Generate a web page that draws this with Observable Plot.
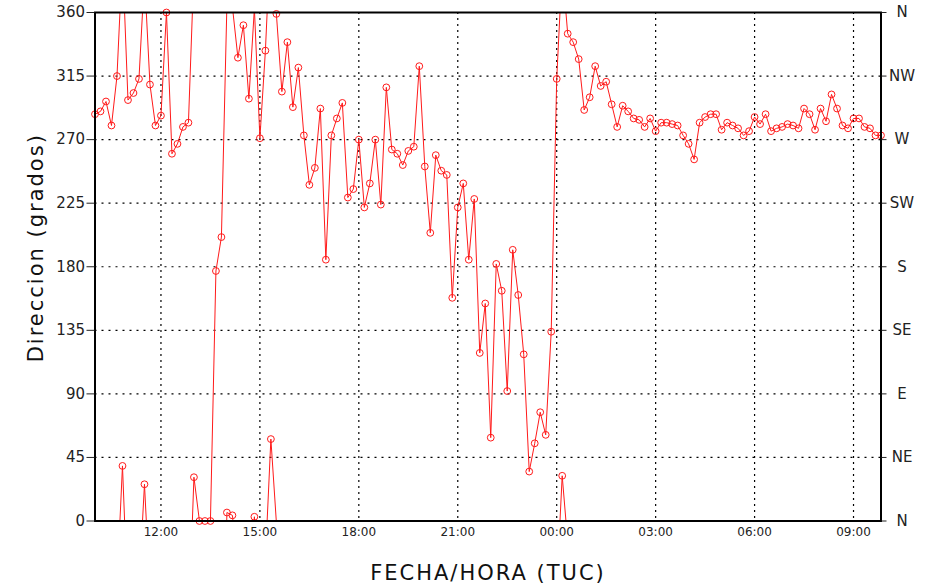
<!DOCTYPE html>
<html><head><meta charset="utf-8">
<script src="https://cdn.jsdelivr.net/npm/d3@7"></script>
<script src="https://cdn.jsdelivr.net/npm/@observablehq/plot@0.6"></script>
<style>
body{margin:0;background:#fff;}
#chart{position:relative;width:930px;height:587px;overflow:hidden;}
#mark{position:absolute;left:0;top:12px;width:7px;height:3px;background:#2ab0b0;}
#chart svg{position:absolute;left:0;top:0;}
</style></head><body><div id="chart"><div id="mark"></div></div>
<script>
// Serie: dirección del viento cada 10 minutos desde las 10:00
const startHourUTC = 10;
const stepMinutes = 10;
const direccion = [
  288,290,297,280,315,39,298,303,313,26,
  309,280,287,360,260,267,279,282,31,0,
  0,0,177,201,6,4,328,351,299,3,
  271,333,58,359,304,339,293,321,273,238,
  250,292,185,273,285,296,229,235,270,222,
  239,270,224,307,263,260,252,262,265,322,
  251,204,259,248,245,158,222,239,185,228,
  119,154,59,182,163,92,192,160,118,35,
  55,77,61,134,313,32,345,339,327,291,
  300,322,308,311,295,279,294,290,285,284,
  279,285,276,282,282,281,280,273,267,256,
  282,286,288,288,277,282,280,278,273,276,
  286,281,288,276,278,279,281,280,278,292,
  288,277,292,283,302,292,280,278,285,285,
  279,278,273,273
];
const yTicks = [0,45,90,135,180,225,270,315,360];
const rumbos = ["N","NE","E","SE","S","SW","W","NW","N"];
const xTickHours = [12,15,18,21,24,27,30,33];
const xTickLabels = ["12:00","15:00","18:00","21:00","00:00","03:00","06:00","09:00"];
const xLabel = "FECHA/HORA (TUC)";
const yLabel = "Direccion (grados)";

const t0 = Date.UTC(2023,0,1,startHourUTC,0);
const data = direccion.map((v,i)=>({t:new Date(t0+i*stepMinutes*60000), v}));
const segs = [];
for (let i=0;i<data.length-1;i++){
  const a=data[i], b=data[i+1], d=b.v-a.v;
  if (Math.abs(d)<=180) segs.push({x1:a.t,y1:a.v,x2:b.t,y2:b.v});
  else if (d<0){ segs.push({x1:a.t,y1:a.v,x2:b.t,y2:b.v+360}); segs.push({x1:a.t,y1:a.v-360,x2:b.t,y2:b.v}); }
  else { segs.push({x1:a.t,y1:a.v,x2:b.t,y2:b.v-360}); segs.push({x1:a.t,y1:a.v+360,x2:b.t,y2:b.v}); }
}
const xTicks = xTickHours.map(h=>new Date(Date.UTC(2023,0,1,h,0)));

const plot = Plot.plot({
  width:930, height:587,
  marginLeft:94.5, marginRight:49.5, marginTop:12, marginBottom:66.5,
  x:{type:"utc", domain:[data[0].t, data[data.length-1].t]},
  y:{domain:[0,360]},
  style:{fontFamily:"'DejaVu Sans', sans-serif", background:"white", overflow:"visible", color:"#222"},
  marks:[
    Plot.ruleY(yTicks.slice(1,-1), {stroke:"black", strokeDasharray:"2,5", strokeWidth:1.2}),
    Plot.ruleX(xTicks, {stroke:"black", strokeDasharray:"2,4", strokeWidth:1.2}),
    Plot.link(segs, {x1:"x1",y1:"y1",x2:"x2",y2:"y2", stroke:"#ff1a1a", strokeWidth:1, clip:true}),
    Plot.dot(data, {x:"t", y:"v", r:3.4, stroke:"#ff1a1a", fill:"none", strokeWidth:1}),
    Plot.frame({stroke:"black", strokeWidth:2}),
    Plot.axisY(yTicks, {anchor:"left", tickSize:8, tickPadding:2, fontSize:15, label:null, tickFormat:d=>String(d)}),
    Plot.axisY(yTicks, {anchor:"right", tickSize:5, tickPadding:16, textAnchor:"middle", fontSize:15, label:null, tickFormat:d=>rumbos[yTicks.indexOf(d)]}),
    Plot.axisX(xTicks, {anchor:"bottom", tickSize:0, tickPadding:6, fontSize:12, label:null, tickFormat:d=>xTickLabels[xTicks.findIndex(t=>+t===+d)]}),
    Plot.text([xLabel], {frameAnchor:"bottom", lineAnchor:"bottom", dy:58.5, fontSize:21, fill:"#111"}),
    Plot.text([yLabel], {frameAnchor:"left", rotate:-90, lineAnchor:"bottom", textAnchor:"middle", dx:-52.5, dy:-19, fontSize:21, fill:"#111"})
  ]
});
d3.select(plot).selectAll('g[aria-label="text"] text').style("letter-spacing","2px");
document.getElementById("chart").appendChild(plot);
</script>
</body></html>
